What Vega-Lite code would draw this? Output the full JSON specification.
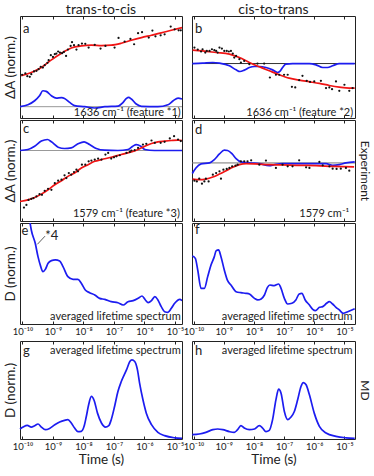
{
"$schema": "https://vega.github.io/schema/vega-lite/v6.json",
"padding": {"left": 2, "top": 2, "right": 0, "bottom": 0},
"config": {
  "font": "Lato",
  "view": {"stroke": "#222", "strokeWidth": 1},
  "axis": {"grid": false, "domain": false, "ticks": true, "tickSize": -3, "tickColor": "#222", "labelFontSize": 9.5, "labelColor": "#222", "labelFlush": false, "titleFontSize": 13.5, "titleFontWeight": "normal", "titleColor": "#222", "labelPadding": 5},
  "title": {"fontSize": 14, "fontWeight": "normal", "color": "#222", "offset": -1},
  "line": {"strokeWidth": 1.7},
  "text": {"color": "#222"}
},
"datasets": {
"one": [{"k": 1}],
"a_dots": [{"logt":-10.01,"v":42.4},{"logt":-9.905,"v":43.7},{"logt":-9.84,"v":41.0},{"logt":-9.76,"v":40.4},{"logt":-9.71,"v":43.0},{"logt":-9.62,"v":45.6},{"logt":-9.54,"v":46.3},{"logt":-9.47,"v":47.9},{"logt":-9.40,"v":50.2},{"logt":-9.33,"v":49.5},{"logt":-9.27,"v":51.8},{"logt":-9.18,"v":54.1},{"logt":-9.14,"v":56.7},{"logt":-9.07,"v":61.6},{"logt":-9.0,"v":59.9},{"logt":-8.94,"v":62.6},{"logt":-8.89,"v":63.2},{"logt":-8.83,"v":65.2},{"logt":-8.77,"v":64.2},{"logt":-8.70,"v":63.5},{"logt":-8.64,"v":64.8},{"logt":-8.57,"v":60.9},{"logt":-8.51,"v":67.1},{"logt":-8.42,"v":70.7},{"logt":-8.375,"v":74.3},{"logt":-8.31,"v":71.4},{"logt":-8.23,"v":67.1},{"logt":-8.16,"v":71.4},{"logt":-8.05,"v":73.0},{"logt":-7.94,"v":72.7},{"logt":-7.83,"v":69.1},{"logt":-7.63,"v":71.7},{"logt":-7.44,"v":68.1},{"logt":-7.28,"v":70.7},{"logt":-6.98,"v":69.1},{"logt":-6.85,"v":78.5},{"logt":-6.65,"v":74.9},{"logt":-6.46,"v":77.5},{"logt":-6.34,"v":72.3},{"logt":-6.21,"v":83.1},{"logt":-6.08,"v":84.1},{"logt":-5.86,"v":78.8},{"logt":-5.74,"v":85.7},{"logt":-5.64,"v":80.1},{"logt":-5.47,"v":81.1},{"logt":-5.34,"v":82.1},{"logt":-5.14,"v":89.6},{"logt":-5.01,"v":87.0},{"logt":-4.88,"v":86.0},{"logt":-4.81,"v":86.0}],
"a_fit": [{"logt":-10.04,"v":41.4},{"logt":-9.71,"v":44.6},{"logt":-9.38,"v":49.5},{"logt":-9.05,"v":57.0},{"logt":-8.72,"v":63.5},{"logt":-8.40,"v":68.7},{"logt":-8.07,"v":70.7},{"logt":-7.74,"v":71.4},{"logt":-7.41,"v":71.0},{"logt":-7.09,"v":71.4},{"logt":-6.76,"v":73.3},{"logt":-6.43,"v":76.2},{"logt":-6.10,"v":78.8},{"logt":-5.77,"v":81.1},{"logt":-5.45,"v":83.4},{"logt":-5.12,"v":86.0},{"logt":-4.77,"v":88.6}],
"a_life": [{"logt":-10.08,"v":11.1},{"logt":-9.82,"v":13.0},{"logt":-9.60,"v":16.9},{"logt":-9.44,"v":21.8},{"logt":-9.33,"v":26.7},{"logt":-9.22,"v":26.1},{"logt":-9.05,"v":21.8},{"logt":-8.89,"v":19.5},{"logt":-8.72,"v":19.9},{"logt":-8.62,"v":19.2},{"logt":-8.45,"v":15.3},{"logt":-8.29,"v":12.1},{"logt":-7.96,"v":11.1},{"logt":-7.63,"v":9.8},{"logt":-7.30,"v":11.1},{"logt":-6.87,"v":11.7},{"logt":-6.70,"v":15.3},{"logt":-6.59,"v":19.2},{"logt":-6.52,"v":20.2},{"logt":-6.43,"v":18.6},{"logt":-6.27,"v":13.7},{"logt":-6.10,"v":11.4},{"logt":-5.56,"v":11.1},{"logt":-5.23,"v":13.0},{"logt":-5.06,"v":16.9},{"logt":-4.90,"v":19.5},{"logt":-4.77,"v":18.6}],
"b_dots": [{"logt":-9.97,"v":69.1},{"logt":-9.86,"v":67.1},{"logt":-9.75,"v":65.2},{"logt":-9.70,"v":67.4},{"logt":-9.61,"v":64.2},{"logt":-9.56,"v":65.8},{"logt":-9.47,"v":65.8},{"logt":-9.39,"v":67.4},{"logt":-9.31,"v":66.5},{"logt":-9.25,"v":65.8},{"logt":-9.20,"v":64.2},{"logt":-9.14,"v":69.1},{"logt":-9.06,"v":68.1},{"logt":-8.98,"v":65.8},{"logt":-8.90,"v":65.8},{"logt":-8.83,"v":65.2},{"logt":-8.76,"v":65.8},{"logt":-8.70,"v":63.2},{"logt":-8.65,"v":59.3},{"logt":-8.59,"v":60.9},{"logt":-8.48,"v":57.7},{"logt":-8.43,"v":54.4},{"logt":-8.32,"v":56.0},{"logt":-8.15,"v":52.8},{"logt":-7.88,"v":53.4},{"logt":-7.66,"v":53.4},{"logt":-7.47,"v":39.7},{"logt":-7.27,"v":42.4},{"logt":-7.16,"v":42.4},{"logt":-7.00,"v":42.4},{"logt":-6.88,"v":42.4},{"logt":-6.74,"v":30.6},{"logt":-6.63,"v":30.0},{"logt":-6.50,"v":37.1},{"logt":-6.39,"v":41.4},{"logt":-6.25,"v":36.5},{"logt":-6.14,"v":35.5},{"logt":-6.00,"v":35.8},{"logt":-5.78,"v":36.5},{"logt":-5.61,"v":29.3},{"logt":-5.50,"v":30.0},{"logt":-5.41,"v":28.3},{"logt":-5.28,"v":35.8},{"logt":-5.17,"v":26.7},{"logt":-5.00,"v":32.6},{"logt":-4.84,"v":26.7},{"logt":-4.73,"v":29.3}],
"b_fit": [{"logt":-10.03,"v":66.5},{"logt":-9.70,"v":65.8},{"logt":-9.25,"v":64.2},{"logt":-8.81,"v":62.6},{"logt":-8.48,"v":59.3},{"logt":-8.15,"v":54.4},{"logt":-7.82,"v":50.2},{"logt":-7.49,"v":46.3},{"logt":-7.16,"v":42.4},{"logt":-6.83,"v":39.1},{"logt":-6.50,"v":37.1},{"logt":-6.16,"v":35.5},{"logt":-5.83,"v":33.9},{"logt":-5.50,"v":31.9},{"logt":-5.17,"v":30.3},{"logt":-4.84,"v":29.3},{"logt":-4.66,"v":29.3}],
"b_life": [{"logt":-10.04,"v":53.4},{"logt":-9.70,"v":53.8},{"logt":-9.36,"v":54.4},{"logt":-9.14,"v":53.8},{"logt":-8.81,"v":51.2},{"logt":-8.59,"v":47.2},{"logt":-8.46,"v":45.6},{"logt":-8.32,"v":46.9},{"logt":-8.15,"v":49.5},{"logt":-7.98,"v":50.5},{"logt":-7.82,"v":50.5},{"logt":-7.60,"v":49.5},{"logt":-7.38,"v":47.2},{"logt":-7.21,"v":44.6},{"logt":-7.14,"v":45.6},{"logt":-7.05,"v":49.5},{"logt":-6.94,"v":52.8},{"logt":-6.72,"v":53.4},{"logt":-6.16,"v":53.4},{"logt":-5.94,"v":52.1},{"logt":-5.72,"v":49.5},{"logt":-5.56,"v":49.5},{"logt":-5.39,"v":51.2},{"logt":-5.17,"v":53.4},{"logt":-4.66,"v":53.4}],
"c_dots": [{"logt":-9.95,"v":13.3},{"logt":-9.87,"v":15.9},{"logt":-9.80,"v":20.9},{"logt":-9.71,"v":21.9},{"logt":-9.64,"v":22.6},{"logt":-9.54,"v":24.3},{"logt":-9.44,"v":26.6},{"logt":-9.36,"v":25.9},{"logt":-9.27,"v":29.9},{"logt":-9.16,"v":31.9},{"logt":-9.05,"v":30.9},{"logt":-8.94,"v":37.5},{"logt":-8.83,"v":39.9},{"logt":-8.72,"v":40.9},{"logt":-8.62,"v":45.2},{"logt":-8.56,"v":42.5},{"logt":-8.48,"v":47.5},{"logt":-8.40,"v":45.8},{"logt":-8.31,"v":48.5},{"logt":-8.23,"v":50.8},{"logt":-8.18,"v":49.2},{"logt":-8.05,"v":55.8},{"logt":-7.94,"v":55.8},{"logt":-7.83,"v":59.1},{"logt":-7.74,"v":59.8},{"logt":-7.63,"v":60.8},{"logt":-7.52,"v":61.8},{"logt":-7.41,"v":60.8},{"logt":-7.28,"v":65.8},{"logt":-7.19,"v":67.4},{"logt":-7.09,"v":61.8},{"logt":-7.00,"v":63.1},{"logt":-6.92,"v":64.1},{"logt":-6.81,"v":65.1},{"logt":-6.59,"v":67.4},{"logt":-6.48,"v":68.4},{"logt":-6.43,"v":69.8},{"logt":-6.32,"v":70.1},{"logt":-6.21,"v":72.4},{"logt":-6.05,"v":75.7},{"logt":-5.94,"v":76.4},{"logt":-5.77,"v":79.7},{"logt":-5.66,"v":77.4},{"logt":-5.47,"v":77.4},{"logt":-5.34,"v":78.4},{"logt":-5.17,"v":81.7},{"logt":-5.03,"v":84.0},{"logt":-4.90,"v":80.7},{"logt":-4.81,"v":79.1}],
"c_fit": [{"logt":-10.08,"v":19.3},{"logt":-9.82,"v":20.9},{"logt":-9.60,"v":23.3},{"logt":-9.38,"v":26.6},{"logt":-9.16,"v":30.9},{"logt":-8.94,"v":35.9},{"logt":-8.72,"v":39.9},{"logt":-8.51,"v":44.2},{"logt":-8.29,"v":47.5},{"logt":-8.07,"v":52.5},{"logt":-7.85,"v":55.8},{"logt":-7.63,"v":59.1},{"logt":-7.41,"v":60.8},{"logt":-7.09,"v":63.1},{"logt":-6.76,"v":65.8},{"logt":-6.43,"v":68.4},{"logt":-6.21,"v":70.8},{"logt":-5.99,"v":74.1},{"logt":-5.77,"v":76.7},{"logt":-5.56,"v":78.4},{"logt":-5.34,"v":79.1},{"logt":-5.12,"v":79.7},{"logt":-4.90,"v":80.1},{"logt":-4.77,"v":79.7}],
"c_life": [{"logt":-10.08,"v":69.8},{"logt":-9.82,"v":70.8},{"logt":-9.60,"v":74.1},{"logt":-9.38,"v":79.1},{"logt":-9.18,"v":80.7},{"logt":-9.05,"v":78.4},{"logt":-8.83,"v":73.1},{"logt":-8.62,"v":71.8},{"logt":-8.40,"v":72.4},{"logt":-8.18,"v":76.4},{"logt":-7.98,"v":78.4},{"logt":-7.80,"v":75.7},{"logt":-7.58,"v":71.8},{"logt":-7.30,"v":70.1},{"logt":-6.87,"v":69.8},{"logt":-6.54,"v":70.8},{"logt":-6.38,"v":74.1},{"logt":-6.27,"v":75.7},{"logt":-6.12,"v":74.1},{"logt":-5.99,"v":70.8},{"logt":-5.67,"v":69.8},{"logt":-4.77,"v":69.8}],
"d_dots": [{"logt":-9.97,"v":39.9},{"logt":-9.89,"v":39.2},{"logt":-9.81,"v":41.9},{"logt":-9.72,"v":36.9},{"logt":-9.64,"v":39.2},{"logt":-9.59,"v":41.9},{"logt":-9.50,"v":39.2},{"logt":-9.36,"v":45.8},{"logt":-9.25,"v":47.5},{"logt":-9.14,"v":49.2},{"logt":-9.09,"v":41.9},{"logt":-9.01,"v":50.8},{"logt":-8.90,"v":51.5},{"logt":-8.81,"v":52.5},{"logt":-8.72,"v":54.1},{"logt":-8.61,"v":54.8},{"logt":-8.54,"v":55.8},{"logt":-8.43,"v":59.1},{"logt":-8.32,"v":59.1},{"logt":-8.21,"v":59.1},{"logt":-8.09,"v":60.1},{"logt":-7.82,"v":55.8},{"logt":-7.60,"v":59.8},{"logt":-7.27,"v":52.5},{"logt":-7.05,"v":55.8},{"logt":-6.88,"v":54.1},{"logt":-6.72,"v":54.1},{"logt":-6.50,"v":60.1},{"logt":-6.27,"v":53.2},{"logt":-6.16,"v":52.5},{"logt":-5.83,"v":58.5},{"logt":-5.72,"v":55.1},{"logt":-5.50,"v":54.1},{"logt":-5.39,"v":51.8},{"logt":-5.26,"v":51.5},{"logt":-5.12,"v":51.8},{"logt":-4.95,"v":52.5},{"logt":-4.84,"v":49.8}],
"d_fit": [{"logt":-10.03,"v":41.5},{"logt":-9.81,"v":40.9},{"logt":-9.59,"v":41.5},{"logt":-9.36,"v":43.5},{"logt":-9.14,"v":46.5},{"logt":-8.92,"v":49.8},{"logt":-8.70,"v":53.2},{"logt":-8.48,"v":55.8},{"logt":-8.26,"v":56.8},{"logt":-7.93,"v":56.5},{"logt":-7.49,"v":55.8},{"logt":-7.05,"v":55.5},{"logt":-6.50,"v":55.1},{"logt":-5.94,"v":54.8},{"logt":-5.39,"v":54.1},{"logt":-4.68,"v":53.5}],
"d_life": [{"logt":-10.04,"v":47.0},{"logt":-9.92,"v":52.5},{"logt":-9.75,"v":56.5},{"logt":-9.47,"v":57.5},{"logt":-9.31,"v":60.8},{"logt":-9.14,"v":66.4},{"logt":-8.98,"v":70.1},{"logt":-8.87,"v":69.8},{"logt":-8.72,"v":66.4},{"logt":-8.59,"v":61.8},{"logt":-8.43,"v":58.5},{"logt":-8.15,"v":57.5},{"logt":-7.82,"v":56.8},{"logt":-7.49,"v":54.8},{"logt":-7.32,"v":55.8},{"logt":-7.05,"v":56.8},{"logt":-6.50,"v":56.8},{"logt":-5.61,"v":56.8},{"logt":-5.39,"v":55.1},{"logt":-5.17,"v":55.8},{"logt":-4.95,"v":57.5},{"logt":-4.66,"v":58.5}],
"e_life": [{"logt":-9.75,"v":100},{"logt":-9.71,"v":93.1},{"logt":-9.58,"v":79.9},{"logt":-9.49,"v":66.7},{"logt":-9.40,"v":56.8},{"logt":-9.33,"v":51.8},{"logt":-9.25,"v":54.1},{"logt":-9.16,"v":60.1},{"logt":-9.05,"v":62.7},{"logt":-8.92,"v":63.4},{"logt":-8.78,"v":62.4},{"logt":-8.67,"v":56.8},{"logt":-8.51,"v":46.9},{"logt":-8.34,"v":44.2},{"logt":-8.18,"v":44.2},{"logt":-8.07,"v":40.3},{"logt":-7.94,"v":33.7},{"logt":-7.80,"v":31.0},{"logt":-7.63,"v":28.7},{"logt":-7.47,"v":25.4},{"logt":-7.30,"v":24.4},{"logt":-7.09,"v":22.1},{"logt":-6.87,"v":21.1},{"logt":-6.70,"v":18.8},{"logt":-6.54,"v":22.1},{"logt":-6.37,"v":23.1},{"logt":-6.21,"v":25.4},{"logt":-6.08,"v":27.7},{"logt":-5.97,"v":23.8},{"logt":-5.88,"v":21.1},{"logt":-5.77,"v":23.1},{"logt":-5.66,"v":27.1},{"logt":-5.56,"v":23.8},{"logt":-5.45,"v":17.2},{"logt":-5.34,"v":12.2},{"logt":-5.23,"v":11.6},{"logt":-5.12,"v":15.5},{"logt":-5.01,"v":20.5},{"logt":-4.84,"v":24.4},{"logt":-4.77,"v":23.1}],
"f_life": [{"logt":-10.04,"v":67.3},{"logt":-9.94,"v":65.0},{"logt":-9.86,"v":53.5},{"logt":-9.75,"v":35.3},{"logt":-9.64,"v":35.3},{"logt":-9.53,"v":46.9},{"logt":-9.42,"v":58.4},{"logt":-9.31,"v":66.7},{"logt":-9.25,"v":72.6},{"logt":-9.17,"v":73.3},{"logt":-9.09,"v":66.7},{"logt":-8.98,"v":53.5},{"logt":-8.87,"v":42.9},{"logt":-8.76,"v":38.6},{"logt":-8.59,"v":32.0},{"logt":-8.43,"v":31.0},{"logt":-8.26,"v":30.4},{"logt":-8.15,"v":29.7},{"logt":-7.98,"v":25.4},{"logt":-7.87,"v":23.8},{"logt":-7.76,"v":24.8},{"logt":-7.65,"v":28.7},{"logt":-7.55,"v":36.3},{"logt":-7.47,"v":38.6},{"logt":-7.33,"v":38.0},{"logt":-7.18,"v":39.6},{"logt":-7.10,"v":35.3},{"logt":-6.99,"v":25.4},{"logt":-6.88,"v":19.8},{"logt":-6.74,"v":20.5},{"logt":-6.61,"v":23.8},{"logt":-6.50,"v":29.7},{"logt":-6.41,"v":30.4},{"logt":-6.30,"v":23.8},{"logt":-6.16,"v":18.8},{"logt":-6.05,"v":14.5},{"logt":-5.96,"v":13.2},{"logt":-5.83,"v":16.5},{"logt":-5.72,"v":17.2},{"logt":-5.59,"v":20.5},{"logt":-5.50,"v":22.1},{"logt":-5.39,"v":19.8},{"logt":-5.28,"v":16.5},{"logt":-5.17,"v":13.9},{"logt":-5.04,"v":10.6},{"logt":-4.89,"v":12.2},{"logt":-4.66,"v":15.2}],
"g_life": [{"logt":-10.08,"v":10.2},{"logt":-9.98,"v":12.2},{"logt":-9.84,"v":13.9},{"logt":-9.71,"v":12.2},{"logt":-9.60,"v":13.6},{"logt":-9.49,"v":15.3},{"logt":-9.38,"v":12.2},{"logt":-9.25,"v":9.5},{"logt":-9.11,"v":10.8},{"logt":-8.94,"v":14.6},{"logt":-8.78,"v":17.3},{"logt":-8.62,"v":19.0},{"logt":-8.51,"v":19.7},{"logt":-8.40,"v":16.3},{"logt":-8.29,"v":11.2},{"logt":-8.18,"v":7.5},{"logt":-8.07,"v":7.8},{"logt":-7.98,"v":12.9},{"logt":-7.91,"v":22.4},{"logt":-7.83,"v":34.9},{"logt":-7.74,"v":43.4},{"logt":-7.65,"v":39.3},{"logt":-7.54,"v":26.4},{"logt":-7.41,"v":16.3},{"logt":-7.28,"v":12.2},{"logt":-7.17,"v":13.6},{"logt":-7.09,"v":19.7},{"logt":-6.98,"v":33.2},{"logt":-6.87,"v":48.5},{"logt":-6.76,"v":58.6},{"logt":-6.59,"v":70.5},{"logt":-6.48,"v":79.0},{"logt":-6.41,"v":80.7},{"logt":-6.32,"v":79.0},{"logt":-6.23,"v":70.5},{"logt":-6.16,"v":57.0},{"logt":-6.05,"v":40.0},{"logt":-5.94,"v":26.4},{"logt":-5.77,"v":14.6},{"logt":-5.56,"v":6.8},{"logt":-5.34,"v":3.4},{"logt":-5.01,"v":1.2},{"logt":-4.77,"v":0.6}],
"h_life": [{"logt":-10.04,"v":4.4},{"logt":-9.81,"v":5.1},{"logt":-9.59,"v":6.8},{"logt":-9.36,"v":9.5},{"logt":-9.20,"v":10.2},{"logt":-9.03,"v":9.5},{"logt":-8.81,"v":7.5},{"logt":-8.65,"v":6.8},{"logt":-8.54,"v":9.5},{"logt":-8.43,"v":13.6},{"logt":-8.32,"v":11.2},{"logt":-8.15,"v":9.5},{"logt":-7.98,"v":10.2},{"logt":-7.82,"v":13.6},{"logt":-7.71,"v":11.2},{"logt":-7.60,"v":7.5},{"logt":-7.49,"v":8.8},{"logt":-7.38,"v":19.7},{"logt":-7.27,"v":40.0},{"logt":-7.18,"v":50.9},{"logt":-7.10,"v":46.8},{"logt":-6.99,"v":28.1},{"logt":-6.88,"v":19.7},{"logt":-6.77,"v":22.4},{"logt":-6.66,"v":28.1},{"logt":-6.55,"v":40.0},{"logt":-6.44,"v":53.6},{"logt":-6.36,"v":57.6},{"logt":-6.27,"v":55.3},{"logt":-6.16,"v":45.1},{"logt":-6.00,"v":26.4},{"logt":-5.83,"v":12.9},{"logt":-5.61,"v":6.1},{"logt":-5.28,"v":2.7},{"logt":-4.95,"v":1.2},{"logt":-4.66,"v":0.6}]
},
"vconcat": [
 {"vconcat": [
  {"hconcat": [
   {"width": 162, "height": 102, "title": "trans-to-cis", "resolve": {"axis": {"x": "independent"}},
    "layer": [
     {"data": {"name": "one"}, "mark": {"type": "text", "text": "a", "align": "left", "baseline": "alphabetic", "fontSize": 13}, "encoding": {"x": {"datum": -9.98, "type": "quantitative", "scale": {"domain": [-10.08, -4.77], "nice": false, "zero": false}, "axis": {"orient": "top", "values": [-10,-9,-8,-7,-6,-5], "labels": false, "title": null}}, "y": {"datum": 83.7, "type": "quantitative", "scale": {"domain": [0, 100], "nice": false, "zero": false}}}},
     {"data": {"name": "one"}, "mark": {"type": "rule", "color": "#999", "strokeWidth": 1}, "encoding": {"x": {"datum": -10.08, "type": "quantitative", "scale": {"domain": [-10.08, -4.77], "nice": false, "zero": false}, "axis": null}, "x2": {"datum": -4.77}, "y": {"datum": 11.1, "type": "quantitative", "scale": {"domain": [0, 100], "nice": false, "zero": false}}}},
     {"data": {"name": "a_life"}, "mark": {"type": "line", "color": "#1c1cf0", "interpolate": "monotone"}, "encoding": {"x": {"field": "logt", "type": "quantitative", "scale": {"domain": [-10.08, -4.77], "nice": false, "zero": false}, "axis": {"values": [-10,-9,-8,-7,-6,-5], "labels": false, "title": null}}, "y": {"field": "v", "type": "quantitative", "scale": {"domain": [0, 100], "nice": false, "zero": false}, "axis": {"title": "ΔA (norm.)", "labels": false, "ticks": false, "titlePadding": 3}}}},
     {"data": {"name": "a_fit"}, "mark": {"type": "line", "color": "#f01414", "interpolate": "monotone"}, "encoding": {"x": {"field": "logt", "type": "quantitative", "scale": {"domain": [-10.08, -4.77], "nice": false, "zero": false}, "axis": null}, "y": {"field": "v", "type": "quantitative", "scale": {"domain": [0, 100], "nice": false, "zero": false}}}},
     {"data": {"name": "a_dots"}, "mark": {"type": "point", "filled": true, "color": "#111", "size": 5, "opacity": 1}, "encoding": {"x": {"field": "logt", "type": "quantitative", "scale": {"domain": [-10.08, -4.77], "nice": false, "zero": false}, "axis": null}, "y": {"field": "v", "type": "quantitative", "scale": {"domain": [0, 100], "nice": false, "zero": false}}}},
     {"data": {"name": "one"}, "mark": {"type": "text", "text": "1636 cm⁻¹ (feature *1)", "align": "right", "baseline": "alphabetic", "fontSize": 11}, "encoding": {"x": {"datum": -4.81, "type": "quantitative", "scale": {"domain": [-10.08, -4.77], "nice": false, "zero": false}, "axis": null}, "y": {"datum": 2.2, "type": "quantitative", "scale": {"domain": [0, 100], "nice": false, "zero": false}}}}
    ]},
   {"width": 163, "height": 102, "title": "cis-to-trans", "resolve": {"axis": {"x": "independent"}},
    "layer": [
     {"data": {"name": "one"}, "mark": {"type": "text", "text": "b", "align": "left", "baseline": "alphabetic", "fontSize": 13}, "encoding": {"x": {"datum": -9.95, "type": "quantitative", "scale": {"domain": [-10.05, -4.65], "nice": false, "zero": false}, "axis": {"orient": "top", "values": [-10,-9,-8,-7,-6,-5], "labels": false, "title": null}}, "y": {"datum": 83.7, "type": "quantitative", "scale": {"domain": [0, 100], "nice": false, "zero": false}, "axis": null}}},
     {"data": {"name": "one"}, "mark": {"type": "rule", "color": "#333", "strokeWidth": 1}, "encoding": {"x": {"datum": -10.05, "type": "quantitative", "scale": {"domain": [-10.05, -4.65], "nice": false, "zero": false}, "axis": null}, "x2": {"datum": -4.65}, "y": {"datum": 53.4, "type": "quantitative", "scale": {"domain": [0, 100], "nice": false, "zero": false}, "axis": null}}},
     {"data": {"name": "b_life"}, "mark": {"type": "line", "color": "#1c1cf0", "interpolate": "monotone"}, "encoding": {"x": {"field": "logt", "type": "quantitative", "scale": {"domain": [-10.05, -4.65], "nice": false, "zero": false}, "axis": {"values": [-10,-9,-8,-7,-6,-5], "labels": false, "title": null}}, "y": {"field": "v", "type": "quantitative", "scale": {"domain": [0, 100], "nice": false, "zero": false}, "axis": null}}},
     {"data": {"name": "b_fit"}, "mark": {"type": "line", "color": "#f01414", "interpolate": "monotone"}, "encoding": {"x": {"field": "logt", "type": "quantitative", "scale": {"domain": [-10.05, -4.65], "nice": false, "zero": false}, "axis": null}, "y": {"field": "v", "type": "quantitative", "scale": {"domain": [0, 100], "nice": false, "zero": false}, "axis": null}}},
     {"data": {"name": "b_dots"}, "mark": {"type": "point", "filled": true, "color": "#111", "size": 5, "opacity": 1}, "encoding": {"x": {"field": "logt", "type": "quantitative", "scale": {"domain": [-10.05, -4.65], "nice": false, "zero": false}, "axis": null}, "y": {"field": "v", "type": "quantitative", "scale": {"domain": [0, 100], "nice": false, "zero": false}, "axis": null}}},
     {"data": {"name": "one"}, "mark": {"type": "text", "text": "1636 cm⁻¹ (feature *2)", "align": "right", "baseline": "alphabetic", "fontSize": 11}, "encoding": {"x": {"datum": -4.71, "type": "quantitative", "scale": {"domain": [-10.05, -4.65], "nice": false, "zero": false}, "axis": null}, "y": {"datum": 2.2, "type": "quantitative", "scale": {"domain": [0, 100], "nice": false, "zero": false}, "axis": null}}}
    ]}
  ], "spacing": 10, "bounds": "flush"},
  {"hconcat": [
   {"width": 162, "height": 101, "resolve": {"axis": {"x": "independent"}},
    "layer": [
     {"data": {"name": "one"}, "mark": {"type": "text", "text": "c", "align": "left", "baseline": "alphabetic", "fontSize": 13}, "encoding": {"x": {"datum": -9.98, "type": "quantitative", "scale": {"domain": [-10.08, -4.77], "nice": false, "zero": false}, "axis": {"orient": "top", "values": [-10,-9,-8,-7,-6,-5], "labels": false, "title": null}}, "y": {"datum": 86.8, "type": "quantitative", "scale": {"domain": [0, 100], "nice": false, "zero": false}}}},
     {"data": {"name": "one"}, "mark": {"type": "rule", "color": "#999", "strokeWidth": 1}, "encoding": {"x": {"datum": -10.08, "type": "quantitative", "scale": {"domain": [-10.08, -4.77], "nice": false, "zero": false}, "axis": null}, "x2": {"datum": -4.77}, "y": {"datum": 69.8, "type": "quantitative", "scale": {"domain": [0, 100], "nice": false, "zero": false}}}},
     {"data": {"name": "c_life"}, "mark": {"type": "line", "color": "#1c1cf0", "interpolate": "monotone"}, "encoding": {"x": {"field": "logt", "type": "quantitative", "scale": {"domain": [-10.08, -4.77], "nice": false, "zero": false}, "axis": {"values": [-10,-9,-8,-7,-6,-5], "labels": false, "title": null}}, "y": {"field": "v", "type": "quantitative", "scale": {"domain": [0, 100], "nice": false, "zero": false}, "axis": {"title": "ΔA (norm.)", "labels": false, "ticks": false, "titlePadding": 3}}}},
     {"data": {"name": "c_fit"}, "mark": {"type": "line", "color": "#f01414", "interpolate": "monotone"}, "encoding": {"x": {"field": "logt", "type": "quantitative", "scale": {"domain": [-10.08, -4.77], "nice": false, "zero": false}, "axis": null}, "y": {"field": "v", "type": "quantitative", "scale": {"domain": [0, 100], "nice": false, "zero": false}}}},
     {"data": {"name": "c_dots"}, "mark": {"type": "point", "filled": true, "color": "#111", "size": 5, "opacity": 1}, "encoding": {"x": {"field": "logt", "type": "quantitative", "scale": {"domain": [-10.08, -4.77], "nice": false, "zero": false}, "axis": null}, "y": {"field": "v", "type": "quantitative", "scale": {"domain": [0, 100], "nice": false, "zero": false}}}},
     {"data": {"name": "one"}, "mark": {"type": "text", "text": "1579 cm⁻¹ (feature *3)", "align": "right", "baseline": "alphabetic", "fontSize": 11}, "encoding": {"x": {"datum": -4.84, "type": "quantitative", "scale": {"domain": [-10.08, -4.77], "nice": false, "zero": false}, "axis": null}, "y": {"datum": 3.6, "type": "quantitative", "scale": {"domain": [0, 100], "nice": false, "zero": false}}}}
    ]},
   {"width": 163, "height": 101, "resolve": {"axis": {"x": "independent"}},
    "layer": [
     {"data": {"name": "one"}, "mark": {"type": "text", "text": "d", "align": "left", "baseline": "alphabetic", "fontSize": 13}, "encoding": {"x": {"datum": -9.95, "type": "quantitative", "scale": {"domain": [-10.05, -4.65], "nice": false, "zero": false}, "axis": {"orient": "top", "values": [-10,-9,-8,-7,-6,-5], "labels": false, "title": null}}, "y": {"datum": 85.8, "type": "quantitative", "scale": {"domain": [0, 100], "nice": false, "zero": false}}}},
     {"data": {"name": "one"}, "mark": {"type": "rule", "color": "#777", "strokeWidth": 1}, "encoding": {"x": {"datum": -10.05, "type": "quantitative", "scale": {"domain": [-10.05, -4.65], "nice": false, "zero": false}, "axis": null}, "x2": {"datum": -4.65}, "y": {"datum": 57.5, "type": "quantitative", "scale": {"domain": [0, 100], "nice": false, "zero": false}}}},
     {"data": {"name": "d_life"}, "mark": {"type": "line", "color": "#1c1cf0", "interpolate": "monotone"}, "encoding": {"x": {"field": "logt", "type": "quantitative", "scale": {"domain": [-10.05, -4.65], "nice": false, "zero": false}, "axis": {"values": [-10,-9,-8,-7,-6,-5], "labels": false, "title": null}}, "y": {"field": "v", "type": "quantitative", "scale": {"domain": [0, 100], "nice": false, "zero": false}, "axis": {"orient": "right", "title": "Experiment", "labels": false, "ticks": false, "titlePadding": 2, "titleFontSize": 12}}}},
     {"data": {"name": "d_fit"}, "mark": {"type": "line", "color": "#f01414", "interpolate": "monotone"}, "encoding": {"x": {"field": "logt", "type": "quantitative", "scale": {"domain": [-10.05, -4.65], "nice": false, "zero": false}, "axis": null}, "y": {"field": "v", "type": "quantitative", "scale": {"domain": [0, 100], "nice": false, "zero": false}}}},
     {"data": {"name": "d_dots"}, "mark": {"type": "point", "filled": true, "color": "#111", "size": 5, "opacity": 1}, "encoding": {"x": {"field": "logt", "type": "quantitative", "scale": {"domain": [-10.05, -4.65], "nice": false, "zero": false}, "axis": null}, "y": {"field": "v", "type": "quantitative", "scale": {"domain": [0, 100], "nice": false, "zero": false}}}},
     {"data": {"name": "one"}, "mark": {"type": "text", "text": "1579 cm⁻¹", "align": "right", "baseline": "alphabetic", "fontSize": 11}, "encoding": {"x": {"datum": -4.84, "type": "quantitative", "scale": {"domain": [-10.05, -4.65], "nice": false, "zero": false}, "axis": null}, "y": {"datum": 3.6, "type": "quantitative", "scale": {"domain": [0, 100], "nice": false, "zero": false}}}}
    ]}
  ], "spacing": 10, "bounds": "flush"},
  {"hconcat": [
   {"width": 162, "height": 101, "resolve": {"axis": {"x": "independent"}},
    "layer": [
     {"data": {"name": "one"}, "mark": {"type": "text", "text": "e", "align": "left", "baseline": "alphabetic", "fontSize": 13}, "encoding": {"x": {"datum": -10.03, "type": "quantitative", "scale": {"domain": [-10.08, -4.77], "nice": false, "zero": false}, "axis": {"orient": "top", "values": [-10,-9,-8,-7,-6,-5], "labels": false, "title": null}}, "y": {"datum": 87.8, "type": "quantitative", "scale": {"domain": [0, 100], "nice": false, "zero": false}}}},
     {"data": {"name": "e_life"}, "mark": {"type": "line", "color": "#1c1cf0", "interpolate": "monotone", "clip": true}, "encoding": {"x": {"field": "logt", "type": "quantitative", "scale": {"domain": [-10.08, -4.77], "nice": false, "zero": false}, "axis": {"values": [-10,-9,-8,-7,-6,-5], "title": null, "labelExpr": "'10⁻' + (datum.value == -10 ? '¹⁰' : substring('⁰¹²³⁴⁵⁶⁷⁸⁹', -datum.value, -datum.value + 1))"}}, "y": {"field": "v", "type": "quantitative", "scale": {"domain": [0, 100], "nice": false, "zero": false}, "axis": {"title": "D (norm.)", "labels": false, "ticks": false, "titlePadding": 3}}}},
     {"data": {"name": "one"}, "mark": {"type": "rule", "color": "#333", "strokeWidth": 0.8}, "encoding": {"x": {"datum": -9.51, "type": "quantitative", "scale": {"domain": [-10.08, -4.77], "nice": false, "zero": false}, "axis": null}, "x2": {"datum": -9.26}, "y": {"datum": 78.9, "type": "quantitative", "scale": {"domain": [0, 100], "nice": false, "zero": false}}, "y2": {"datum": 87}}},
     {"data": {"name": "one"}, "mark": {"type": "text", "text": "*4", "align": "left", "baseline": "alphabetic", "fontSize": 13}, "encoding": {"x": {"datum": -9.25, "type": "quantitative", "scale": {"domain": [-10.08, -4.77], "nice": false, "zero": false}, "axis": null}, "y": {"datum": 82.9, "type": "quantitative", "scale": {"domain": [0, 100], "nice": false, "zero": false}}}},
     {"data": {"name": "one"}, "mark": {"type": "text", "text": "averaged lifetime spectrum", "align": "right", "baseline": "alphabetic", "fontSize": 11}, "encoding": {"x": {"datum": -4.81, "type": "quantitative", "scale": {"domain": [-10.08, -4.77], "nice": false, "zero": false}, "axis": null}, "y": {"datum": 4.0, "type": "quantitative", "scale": {"domain": [0, 100], "nice": false, "zero": false}}}}
    ]},
   {"width": 163, "height": 101, "resolve": {"axis": {"x": "independent"}},
    "layer": [
     {"data": {"name": "one"}, "mark": {"type": "text", "text": "f", "align": "left", "baseline": "alphabetic", "fontSize": 13}, "encoding": {"x": {"datum": -9.95, "type": "quantitative", "scale": {"domain": [-10.05, -4.65], "nice": false, "zero": false}, "axis": {"orient": "top", "values": [-10,-9,-8,-7,-6,-5], "labels": false, "title": null}}, "y": {"datum": 88.8, "type": "quantitative", "scale": {"domain": [0, 100], "nice": false, "zero": false}, "axis": null}}},
     {"data": {"name": "f_life"}, "mark": {"type": "line", "color": "#1c1cf0", "interpolate": "monotone"}, "encoding": {"x": {"field": "logt", "type": "quantitative", "scale": {"domain": [-10.05, -4.65], "nice": false, "zero": false}, "axis": {"values": [-10,-9,-8,-7,-6,-5], "title": null, "labelExpr": "'10⁻' + (datum.value == -10 ? '¹⁰' : substring('⁰¹²³⁴⁵⁶⁷⁸⁹', -datum.value, -datum.value + 1))"}}, "y": {"field": "v", "type": "quantitative", "scale": {"domain": [0, 100], "nice": false, "zero": false}, "axis": null}}},
     {"data": {"name": "one"}, "mark": {"type": "text", "text": "averaged lifetime spectrum", "align": "right", "baseline": "alphabetic", "fontSize": 11}, "encoding": {"x": {"datum": -4.73, "type": "quantitative", "scale": {"domain": [-10.05, -4.65], "nice": false, "zero": false}, "axis": null}, "y": {"datum": 4.0, "type": "quantitative", "scale": {"domain": [0, 100], "nice": false, "zero": false}, "axis": null}}}
    ]}
  ], "spacing": 10, "bounds": "flush"}
 ], "spacing": 0},
 {"hconcat": [
   {"width": 162, "height": 98, "resolve": {"axis": {"x": "independent"}},
    "layer": [
     {"data": {"name": "one"}, "mark": {"type": "text", "text": "g", "align": "left", "baseline": "alphabetic", "fontSize": 13}, "encoding": {"x": {"datum": -9.98, "type": "quantitative", "scale": {"domain": [-10.08, -4.77], "nice": false, "zero": false}, "axis": {"orient": "top", "values": [-10,-9,-8,-7,-6,-5], "labels": false, "title": null}}, "y": {"datum": 85.8, "type": "quantitative", "scale": {"domain": [0, 100], "nice": false, "zero": false}}}},
     {"data": {"name": "g_life"}, "mark": {"type": "line", "color": "#1c1cf0", "interpolate": "monotone"}, "encoding": {"x": {"field": "logt", "type": "quantitative", "scale": {"domain": [-10.08, -4.77], "nice": false, "zero": false}, "axis": {"values": [-10,-9,-8,-7,-6,-5], "title": "Time (s)", "titlePadding": 2, "labelExpr": "'10⁻' + (datum.value == -10 ? '¹⁰' : substring('⁰¹²³⁴⁵⁶⁷⁸⁹', -datum.value, -datum.value + 1))"}}, "y": {"field": "v", "type": "quantitative", "scale": {"domain": [0, 100], "nice": false, "zero": false}, "axis": {"title": "D (norm.)", "labels": false, "ticks": false, "titlePadding": 3}}}},
     {"data": {"name": "one"}, "mark": {"type": "text", "text": "averaged lifetime spectrum", "align": "right", "baseline": "alphabetic", "fontSize": 11}, "encoding": {"x": {"datum": -4.81, "type": "quantitative", "scale": {"domain": [-10.08, -4.77], "nice": false, "zero": false}, "axis": null}, "y": {"datum": 86.8, "type": "quantitative", "scale": {"domain": [0, 100], "nice": false, "zero": false}}}}
    ]},
   {"width": 163, "height": 98, "resolve": {"axis": {"x": "independent"}},
    "layer": [
     {"data": {"name": "one"}, "mark": {"type": "text", "text": "h", "align": "left", "baseline": "alphabetic", "fontSize": 13}, "encoding": {"x": {"datum": -9.95, "type": "quantitative", "scale": {"domain": [-10.05, -4.65], "nice": false, "zero": false}, "axis": {"orient": "top", "values": [-10,-9,-8,-7,-6,-5], "labels": false, "title": null}}, "y": {"datum": 85.8, "type": "quantitative", "scale": {"domain": [0, 100], "nice": false, "zero": false}}}},
     {"data": {"name": "h_life"}, "mark": {"type": "line", "color": "#1c1cf0", "interpolate": "monotone"}, "encoding": {"x": {"field": "logt", "type": "quantitative", "scale": {"domain": [-10.05, -4.65], "nice": false, "zero": false}, "axis": {"values": [-10,-9,-8,-7,-6,-5], "title": "Time (s)", "titlePadding": 2, "labelExpr": "'10⁻' + (datum.value == -10 ? '¹⁰' : substring('⁰¹²³⁴⁵⁶⁷⁸⁹', -datum.value, -datum.value + 1))"}}, "y": {"field": "v", "type": "quantitative", "scale": {"domain": [0, 100], "nice": false, "zero": false}, "axis": {"orient": "right", "title": "MD", "labels": false, "ticks": false, "titlePadding": 2, "titleFontSize": 12}}}},
     {"data": {"name": "one"}, "mark": {"type": "text", "text": "averaged lifetime spectrum", "align": "right", "baseline": "alphabetic", "fontSize": 11}, "encoding": {"x": {"datum": -4.73, "type": "quantitative", "scale": {"domain": [-10.05, -4.65], "nice": false, "zero": false}, "axis": null}, "y": {"datum": 86.8, "type": "quantitative", "scale": {"domain": [0, 100], "nice": false, "zero": false}}}}
    ]}
 ], "spacing": 10, "bounds": "flush"}
],
"spacing": 4
}
